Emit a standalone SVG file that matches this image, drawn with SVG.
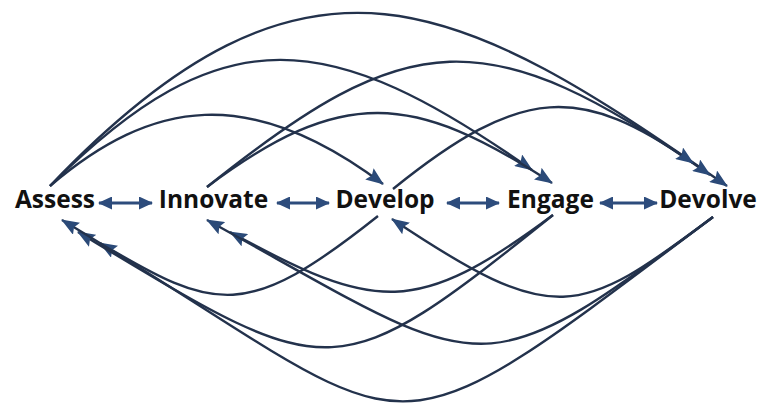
<svg xmlns="http://www.w3.org/2000/svg" width="763" height="404" viewBox="0 0 763 404">
<style>
.lbl{font-family:"Open Sans","Liberation Sans",sans-serif;font-weight:700;font-size:24.5px;fill:#111;text-anchor:middle}
.arc{fill:none;stroke:#23324c;stroke-width:2.4;marker-end:url(#ah)}
.dbl{fill:none;stroke:#2d4c7c;stroke-width:3.2;marker-start:url(#dh);marker-end:url(#dh)}
</style>
<defs>
<marker id="ah" markerUnits="userSpaceOnUse" viewBox="0 0 18 14" markerWidth="18" markerHeight="14" refX="17" refY="7" orient="auto">
<path d="M0,0 L18,7 L0,14 L3,7 Z" fill="#2b4a78"/>
</marker>
<marker id="dh" markerUnits="userSpaceOnUse" viewBox="0 0 14 13" markerWidth="14" markerHeight="13" refX="13" refY="6.5" orient="auto-start-reverse">
<path d="M0,0 L14,6.5 L0,13 Z" fill="#2d4c7c"/>
</marker>
</defs>
<rect width="763" height="404" fill="#fff"/>
<g id="connectors">
<path class="arc" d="M50,186 C152,99 250,84 383,184"/>
<path class="arc" d="M50,186 C223,13 330,28 532,170"/>
<path class="arc" d="M50,186 C308,-85 459,-1 727,186"/>
<path class="arc" d="M207,187 C342,86 413,92 552,183"/>
<path class="arc" d="M207,187 C408,26 486,18 710,175"/>
<path class="arc" d="M393,189 C523,84 581,85 693,163"/>
<path class="arc" d="M378,216 C246,321 216,312 100,243"/>
<path class="arc" d="M553,215 C332,392 332,385 78,232"/>
<path class="arc" d="M713,217 C361,481 434,443 62,220"/>
<path class="arc" d="M553,215 C416,317 376,312 230,232"/>
<path class="arc" d="M713,217 C472,397 487,374 207,220"/>
<path class="arc" d="M713,217 C578,318 555,328 392,219"/>
<path class="dbl" d="M99,203 L152,203"/>
<path class="dbl" d="M277,203 L329,203"/>
<path class="dbl" d="M447,203 L499,203"/>
<path class="dbl" d="M600,203 L657,203"/>
</g>
<g id="assess"><text class="lbl" x="55" y="208">Assess</text></g>
<g id="innovate"><text class="lbl" x="213.5" y="208">Innovate</text></g>
<g id="develop"><text class="lbl" x="385" y="208">Develop</text></g>
<g id="engage"><text class="lbl" x="550.5" y="208">Engage</text></g>
<g id="devolve"><text class="lbl" x="708" y="208">Devolve</text></g>
</svg>
